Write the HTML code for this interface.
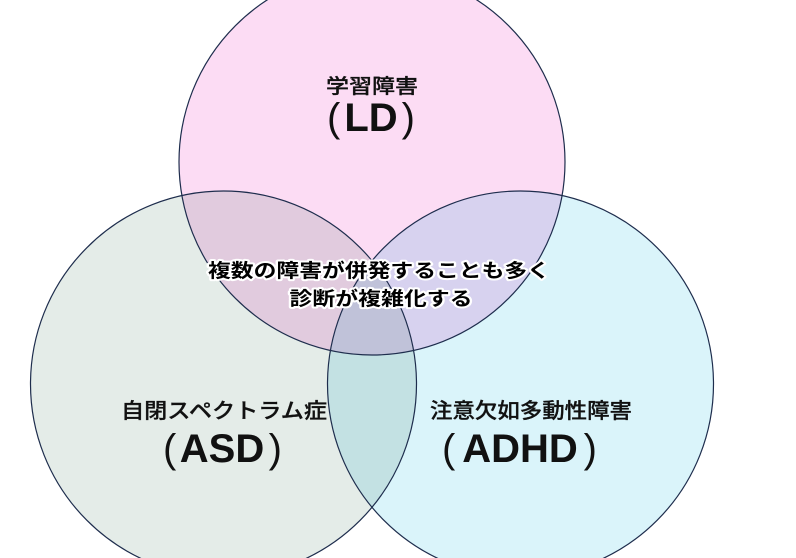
<!DOCTYPE html>
<html><head><meta charset="utf-8"><style>
html,body{margin:0;padding:0;background:#fff;}
svg{display:block;}
text{font-family:"Liberation Sans","Noto Sans CJK JP",sans-serif;}
</style></head><body>
<svg width="796" height="558" viewBox="0 0 796 558" xmlns="http://www.w3.org/2000/svg">
<g style="isolation:isolate">
<circle cx="372" cy="162" r="193" fill="#fcdcf4" style="mix-blend-mode:multiply"/>
<circle cx="223.5" cy="384" r="193" fill="#e4ece8" style="mix-blend-mode:multiply"/>
<circle cx="520.5" cy="384" r="193" fill="#daf4fa" style="mix-blend-mode:multiply"/>
</g>
<g fill="none" stroke="#1e2d4d" stroke-width="1.2">
<circle cx="372" cy="162" r="193"/>
<circle cx="223.5" cy="384" r="193"/>
<circle cx="520.5" cy="384" r="193"/>
</g>
<g fill="#111" font-weight="500" stroke="#111" stroke-width="0.3">
<text x="372" y="93" font-size="20" text-anchor="middle" textLength="92" lengthAdjust="spacingAndGlyphs">学習障害</text>
<text x="224" y="418" font-size="21" text-anchor="middle" textLength="206" lengthAdjust="spacingAndGlyphs">自閉スペクトラム症</text>
<text x="531" y="418" font-size="21" text-anchor="middle" textLength="202" lengthAdjust="spacingAndGlyphs">注意欠如多動性障害</text>
</g>
<g fill="#111" font-size="40">
<text x="371" y="131" text-anchor="middle" font-weight="bold">LD</text>
<text x="327" y="131">(</text>
<text x="415" y="131" text-anchor="end">)</text>
<text x="222" y="462" text-anchor="middle" font-weight="bold">ASD</text>
<text x="163" y="462">(</text>
<text x="282" y="462" text-anchor="end">)</text>
<text x="520" y="462" text-anchor="middle" font-weight="bold">ADHD</text>
<text x="442" y="462">(</text>
<text x="597" y="462" text-anchor="end">)</text>
</g>
<g font-weight="bold" font-size="19" text-anchor="middle">
<text x="379" y="277" textLength="342" lengthAdjust="spacingAndGlyphs" fill="#000" stroke="#fff" stroke-width="4" stroke-linejoin="round" paint-order="stroke">複数の障害が併発することも多く</text>
<text x="381" y="305" textLength="183" lengthAdjust="spacingAndGlyphs" fill="#000" stroke="#fff" stroke-width="4" stroke-linejoin="round" paint-order="stroke">診断が複雑化する</text>
</g>
</svg>
</body></html>
